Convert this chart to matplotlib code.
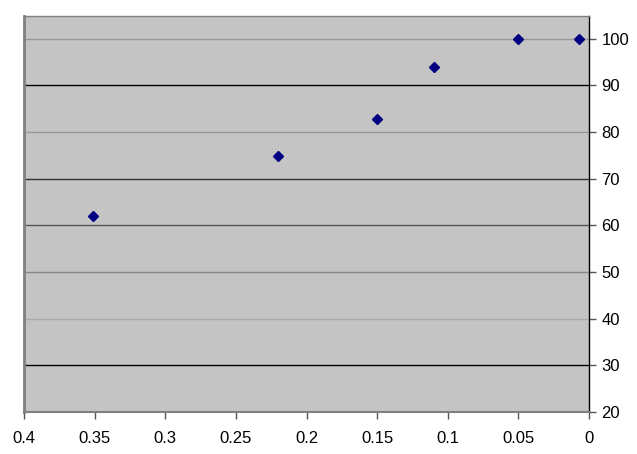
import matplotlib
matplotlib.use("Agg")
import matplotlib.pyplot as plt

x_values = [0.007, 0.05, 0.11, 0.15, 0.22, 0.351]
y_values = [100.0, 100.0, 94.0, 82.8, 74.9, 62.0]
x_ticks = [0, 0.05, 0.1, 0.15, 0.2, 0.25, 0.3, 0.35, 0.4]
x_tick_labels = ["0", "0.05", "0.1", "0.15", "0.2", "0.25", "0.3", "0.35", "0.4"]
y_ticks = [20, 30, 40, 50, 60, 70, 80, 90, 100]
grid_colors = {30: "#000000", 40: "#aaaaaa", 50: "#888888", 60: "#555555",
               70: "#333333", 80: "#999999", 90: "#000000", 100: "#999999"}

plt.rcParams['font.family'] = ['Liberation Sans', 'DejaVu Sans']
fig = plt.figure(figsize=(6.37, 4.54), dpi=100)
ax = fig.add_axes([24/637, 1-412/454, (589-24)/637, (412-16)/454])
ax.set_facecolor("#c4c4c4")

for yv, c in grid_colors.items():
    ax.axhline(yv, color=c, lw=1.0, zorder=1)

ax.plot(x_values, y_values, linestyle="none", marker="D", ms=5,
        color="#000080", zorder=3)

ax.set_xlim(0.4, 0)
ax.set_ylim(20, 104.9)
ax.set_xticks(x_ticks)
ax.set_xticklabels(x_tick_labels)
ax.set_yticks(y_ticks)
ax.yaxis.tick_right()
ax.tick_params(axis="both", labelsize=12, length=5, width=1, color="#555555")
ax.tick_params(axis="y", pad=4)
ax.tick_params(axis="x", pad=9)

for s in ["left", "bottom", "top"]:
    ax.spines[s].set_color("#808080")
ax.spines["left"].set_linewidth(2)
ax.spines["bottom"].set_linewidth(1.5)
ax.spines["top"].set_linewidth(1)
ax.spines["right"].set_color("#000000")
ax.spines["right"].set_linewidth(1)

fig.savefig("out.png", dpi=100)
